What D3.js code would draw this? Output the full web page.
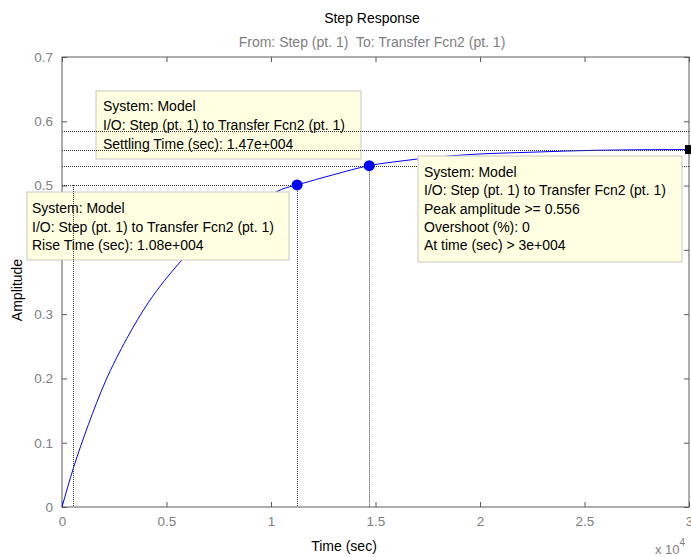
<!DOCTYPE html>
<html><head><meta charset="utf-8">
<script src="https://cdn.jsdelivr.net/npm/d3@7"></script>
<style>body{margin:0;background:#fff}svg{display:block;font-family:"Liberation Sans",Arial,sans-serif}</style>
</head><body><svg id="c" width="691" height="557"></svg>
<script>
// time in seconds, amplitude
const timeVals = [0, 540, 1260, 2060, 3100, 4130, 4900, 5650, 7000, 8000, 9000, 10000, 10500, 11250, 13000, 14700, 16170, 19360, 22550, 25740, 29700, 30000];
const ampVals  = [0, 0.060, 0.128, 0.194, 0.262, 0.318, 0.352, 0.381, 0.425, 0.449, 0.469, 0.486, 0.494, 0.501, 0.517, 0.531, 0.538, 0.548, 0.552, 0.555, 0.556, 0.556];
const xTicks = [0, 5000, 10000, 15000, 20000, 25000, 30000];
const xTickLabels = ["0", "0.5", "1", "1.5", "2", "2.5", "3"];
const yTicks = [0, 0.1, 0.2, 0.3, 0.4, 0.5, 0.6, 0.7];
const yTickLabels = ["0", "0.1", "0.2", "0.3", "0.4", "0.5", "0.6", "0.7"];
// characteristics
const riseLevel = 0.501, riseT10 = 530, riseT90 = 11250;
const settleUpper = 0.5853, settleLower = 0.531, settleT = 14700;
const peakAmp = 0.556, peakT = 30000;
const tipRise = ["System: Model", "I/O: Step (pt. 1) to Transfer Fcn2 (pt. 1)", "Rise Time (sec): 1.08e+004"];
const tipSettle = ["System: Model", "I/O: Step (pt. 1) to Transfer Fcn2 (pt. 1)", "Settling Time (sec): 1.47e+004"];
const tipPeak = ["System: Model", "I/O: Step (pt. 1) to Transfer Fcn2 (pt. 1)", "Peak amplitude >= 0.556", "Overshoot (%): 0", "At time (sec) > 3e+004"];

const svg = d3.select("#c");
const L = 62, R = 689, T = 57, B = 507;
const x = d3.scaleLinear().domain([0, 30000]).range([L, R]);
const y = d3.scaleLinear().domain([0, 0.7]).range([B, T]);
const grey = "#808080", axc = "#5a5a5a";

// titles
svg.append("text").attr("x", 372).attr("y", 23).attr("text-anchor", "middle").attr("font-size", 14).attr("fill", "#000").text("Step Response");
svg.append("text").attr("x", 372).attr("y", 47).attr("text-anchor", "middle").attr("font-size", 14).attr("fill", grey).text("From: Step (pt. 1)\u00a0 To: Transfer Fcn2 (pt. 1)");
svg.append("text").attr("x", 344).attr("y", 551).attr("text-anchor", "middle").attr("font-size", 14).attr("fill", "#000").text("Time (sec)");
svg.append("text").attr("transform", "translate(22,290) rotate(-90)").attr("text-anchor", "middle").attr("font-size", 14).attr("fill", "#000").text("Amplitude");
const ex = svg.append("text").attr("x", 655).attr("y", 554).attr("font-size", 13).attr("fill", grey);
ex.append("tspan").text("x 10");
ex.append("tspan").attr("dy", -8).attr("font-size", 10).text("4");

// axes box
svg.append("rect").attr("x", L).attr("y", T).attr("width", R - L).attr("height", B - T).attr("fill", "none").attr("stroke", axc).attr("stroke-width", 1);
const xb = d3.axisBottom(x).tickValues(xTicks).tickFormat((d, i) => xTickLabels[i]).tickSizeInner(-5).tickSizeOuter(0).tickPadding(9);
const gx = svg.append("g").attr("transform", `translate(0,${B})`).call(xb);
const xt = d3.axisTop(x).tickValues(xTicks).tickFormat("").tickSizeInner(-5).tickSizeOuter(0);
const gxt = svg.append("g").attr("transform", `translate(0,${T})`).call(xt);
const yl = d3.axisLeft(y).tickValues(yTicks).tickFormat((d, i) => yTickLabels[i]).tickSizeInner(-5).tickSizeOuter(0).tickPadding(9);
const gy = svg.append("g").attr("transform", `translate(${L},0)`).call(yl);
const yr = d3.axisRight(y).tickValues(yTicks).tickFormat("").tickSizeInner(-5).tickSizeOuter(0);
const gyr = svg.append("g").attr("transform", `translate(${R},0)`).call(yr);
[gx, gxt, gy, gyr].forEach(g => {
  g.select(".domain").remove();
  g.selectAll("line").attr("stroke", axc);
  g.selectAll("text").attr("fill", grey).attr("font-size", 13.5).attr("font-family", "Liberation Sans, Arial, sans-serif");
});

// curve
const pts = timeVals.map((t, i) => [t, ampVals[i]]);
svg.append("path").datum(pts).attr("fill", "none").attr("stroke", "#0000ff").attr("stroke-width", 1)
  .attr("d", d3.line().x(d => x(d[0])).y(d => y(d[1])).curve(d3.curveMonotoneX));

function tip(lines, bx, by, bw, bh, tx, ty, lh) {
  const g = svg.append("g");
  g.append("rect").attr("x", bx).attr("y", by).attr("width", bw).attr("height", bh)
    .attr("fill", "#ffffe1").attr("stroke", "#c8c8c0").attr("stroke-width", 1);
  lines.forEach((s, i) => g.append("text").attr("x", tx).attr("y", ty + i * lh).attr("font-size", 14).attr("fill", "#000").text(s));
}
tip(tipSettle, 96, 91, 265, 68, 103, 111, 18.8);
tip(tipRise, 27, 192, 262, 68, 32, 213, 18.5);

// characteristic lines
const dl = svg.append("g").attr("stroke", "#333").attr("stroke-width", 1).attr("stroke-dasharray", "1,1").attr("fill", "none");
const hline = (v, x1, x2) => dl.append("line").attr("x1", x1).attr("x2", x2).attr("y1", Math.round(y(v)) + 0.5).attr("y2", Math.round(y(v)) + 0.5);
const vline = (t, v) => dl.append("line").attr("x1", Math.round(x(t)) + 0.5).attr("x2", Math.round(x(t)) + 0.5).attr("y1", y(v)).attr("y2", B);
hline(riseLevel, L, x(riseT90));
vline(riseT10, riseLevel);
vline(riseT90, riseLevel);
hline(settleUpper, L, R);
hline(settleLower, L, R);
vline(settleT, settleLower);
hline(peakAmp, L, R);

tip(tipPeak, 418, 156, 264, 106, 424, 177, 18.3);

// markers
svg.append("circle").attr("cx", x(riseT90)).attr("cy", y(riseLevel)).attr("r", 5.5).attr("fill", "#0000ff");
svg.append("circle").attr("cx", x(settleT)).attr("cy", y(settleLower)).attr("r", 5.5).attr("fill", "#0000ff");
svg.append("rect").attr("x", x(peakT) - 4).attr("y", y(peakAmp) - 4.5).attr("width", 8).attr("height", 9).attr("fill", "#000");
</script></body></html>
